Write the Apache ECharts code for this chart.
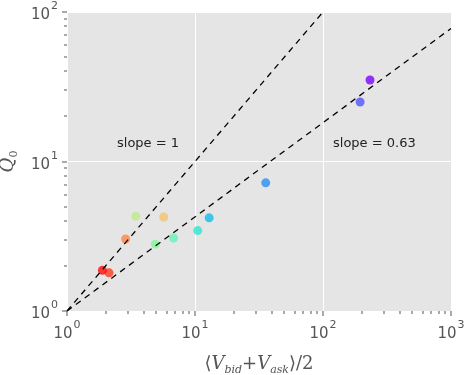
<!DOCTYPE html>
<html>
<head>
<meta charset="utf-8">
<script src="https://cdn.jsdelivr.net/npm/echarts@6/dist/echarts.min.js"></script>
<style>
  html, body { margin: 0; padding: 0; background: #fff; }
  #chart { width: 466px; height: 375px; }
</style>
</head>
<body>
<div id="chart"></div>
<script>
'use strict';

// measured points, <V_bid+V_ask>/2 vs Q_0
var volume = [233, 195, 35.7, 12.9, 10.5, 6.8, 4.9, 3.45, 5.7, 2.87, 2.13, 1.89];
var q0 = [35.1, 25.0, 7.2, 4.2, 3.45, 3.08, 2.8, 4.3, 4.25, 3.03, 1.8, 1.87];
var pointColors = ['#8000ff', '#5454fc', '#2a8ef4', '#10bdea', '#30e6d0', '#62f5b4',
  '#82f59a', '#c3e88a', '#f4c270', '#ff8448', '#ff3a1e', '#ff0a05'];

// guide lines (end points)
var slopeOne = [[1, 1], [100, 100]];
var slopeFit = [[1, 1], [1000, 77.6]];

// tick positions
var xMajor = [1, 10, 100, 1000];
var yMajor = [1, 10, 100];
var xMinor = [2, 3, 4, 5, 6, 7, 8, 9, 20, 30, 40, 50, 60, 70, 80, 90, 200, 300, 400, 500, 600, 700, 800, 900];
var yMinor = [2, 3, 4, 5, 6, 7, 8, 9, 20, 30, 40, 50, 60, 70, 80, 90];

var myChart = echarts.init(document.getElementById('chart'));

function powLabel(v) {
  return '{b|10}{e|' + Math.round(Math.log10(v)) + '}';
}

var labelRich = {
  b: { fontSize: 15, color: '#555', fontFamily: 'DejaVu Sans', lineHeight: 22, verticalAlign: 'bottom' },
  e: { fontSize: 11, color: '#555', fontFamily: 'DejaVu Sans', verticalAlign: 'top', padding: [0, 0, 0, 1] }
};

var points = volume.map(function(v, i) {
  return { value: [v, q0[i]], itemStyle: { color: pointColors[i] } };
});

var texts = [
  { type: 'text', left: 117, top: 137, style: { text: 'slope = 1', font: '13px "DejaVu Sans"', fill: '#222' } },
  { type: 'text', left: 333, top: 137, style: { text: 'slope = 0.63', font: '13px "DejaVu Sans"', fill: '#222' } }
];

var option = {
  animation: false,
  grid: {
    left: 67,
    right: 15,
    top: 12,
    bottom: 64,
    containLabel: false,
    outerBoundsMode: 'none',
    show: true,
    backgroundColor: '#e5e5e5',
    borderWidth: 0
  },
  xAxis: {
    type: 'log',
    logBase: 10,
    min: 1,
    max: 1000,
    axisLine: { show: false },
    axisTick: { show: false },
    axisLabel: { margin: 9, formatter: powLabel, rich: labelRich },
    splitLine: { show: true, lineStyle: { color: '#fff', width: 1 } },
    name: '{p|\u27E8}{v|V}{s|bid}{p|+}{v|V}{s|ask}{p|\u27E9/2}',
    nameLocation: 'middle',
    nameGap: 38,
    nameTextStyle: {
      rich: {
        p: { fontSize: 18, color: '#555', fontFamily: 'DejaVu Serif', lineHeight: 24, verticalAlign: 'bottom' },
        v: { fontSize: 18, color: '#555', fontFamily: 'DejaVu Serif', fontStyle: 'italic', verticalAlign: 'bottom' },
        s: { fontSize: 11, color: '#555', fontFamily: 'DejaVu Serif', fontStyle: 'italic', verticalAlign: 'bottom', padding: [0, 0, -3, 0] }
      }
    }
  },
  yAxis: {
    type: 'log',
    logBase: 10,
    min: 1,
    max: 100,
    axisLine: { show: false },
    axisTick: { show: false },
    axisLabel: { margin: 9, formatter: powLabel, rich: labelRich },
    splitLine: { show: true, lineStyle: { color: '#fff', width: 1 } },
    name: '{v|Q}{s|0}',
    nameLocation: 'middle',
    nameGap: 46,
    nameTextStyle: {
      rich: {
        v: { fontSize: 18, color: '#555', fontFamily: 'DejaVu Serif', fontStyle: 'italic', lineHeight: 24, verticalAlign: 'bottom' },
        s: { fontSize: 11, color: '#555', fontFamily: 'DejaVu Serif', verticalAlign: 'bottom', padding: [0, 0, -3, 0] }
      }
    }
  },
  graphic: texts,
  series: [
    {
      type: 'scatter',
      symbolSize: 9,
      z: 2,
      data: points
    },
    {
      type: 'line',
      data: slopeOne,
      symbol: 'none',
      z: 3,
      lineStyle: { color: '#000', width: 1.3, type: [6, 5] }
    },
    {
      type: 'line',
      data: slopeFit,
      symbol: 'none',
      z: 3,
      lineStyle: { color: '#000', width: 1.3, type: [6, 5] }
    }
  ]
};

myChart.setOption(option);

// tick marks, placed through the axes' own scales (one axis at a time)
var axisLeft = Math.round(myChart.convertToPixel({ xAxisIndex: 0 }, 1));
var axisBottom = Math.round(myChart.convertToPixel({ yAxisIndex: 0 }, 1));
var tickMarks = [];
function addTick(v, isX, len) {
  var pos = isX ? myChart.convertToPixel({ xAxisIndex: 0 }, v)
                : myChart.convertToPixel({ yAxisIndex: 0 }, v);
  pos = Math.round(pos);
  tickMarks.push({
    type: 'rect',
    silent: true,
    z: 100,
    shape: isX ? { x: pos - 0.5, y: axisBottom, width: 1, height: len }
               : { x: axisLeft - len, y: pos - 0.5, width: len, height: 1 },
    style: { fill: '#555' }
  });
}
xMajor.forEach(function(v) { addTick(v, true, 5); });
yMajor.forEach(function(v) { addTick(v, false, 5); });
xMinor.forEach(function(v) { addTick(v, true, 3); });
yMinor.forEach(function(v) { addTick(v, false, 3); });

myChart.setOption({ graphic: texts.concat(tickMarks) });
</script>
</body>
</html>
